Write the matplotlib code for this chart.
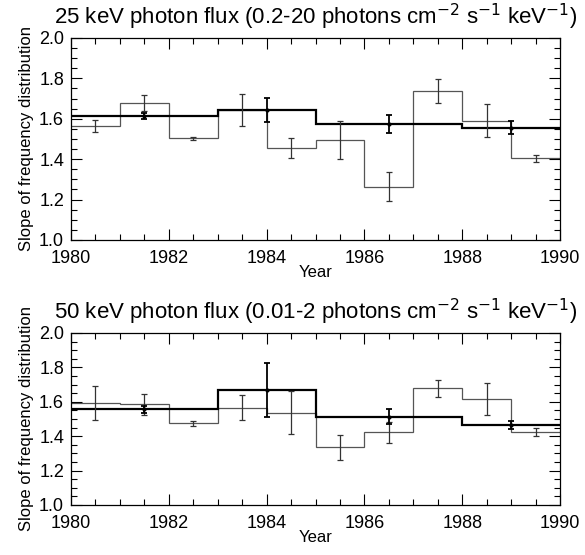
import numpy as np
import matplotlib
matplotlib.use("Agg")
import matplotlib.pyplot as plt
from matplotlib.ticker import MultipleLocator

plt.rcParams['font.family'] = ['Liberation Sans', 'DejaVu Sans']

# yearly bins (thin line)
years = [1980, 1981, 1982, 1983, 1984, 1985, 1986, 1987, 1988, 1989, 1990]
top_thin = [1.564, 1.680, 1.503, 1.644, 1.454, 1.495, 1.264, 1.738, 1.591, 1.404]
top_thin_err = [0.031, 0.040, 0.008, 0.080, 0.050, 0.092, 0.071, 0.060, 0.081, 0.019]
bot_thin = [1.595, 1.585, 1.475, 1.566, 1.537, 1.335, 1.423, 1.678, 1.616, 1.423]
bot_thin_err = [0.099, 0.061, 0.015, 0.073, 0.124, 0.072, 0.060, 0.050, 0.094, 0.023]

# wide bins (thick line)
wide_edges = [1980, 1983, 1985, 1988, 1990]
top_thick = [1.614, 1.645, 1.574, 1.556]
top_thick_err = [0.016, 0.060, 0.043, 0.032]
bot_thick = [1.556, 1.669, 1.513, 1.465]
bot_thick_err = [0.020, 0.157, 0.045, 0.023]

titles = [r"25 keV photon flux (0.2-20 photons cm$^{-2}$ s$^{-1}$ keV$^{-1}$)",
          r"50 keV photon flux (0.01-2 photons cm$^{-2}$ s$^{-1}$ keV$^{-1}$)"]


def panel(ax, thin, thin_err, thick, thick_err, title):
    ax.stairs(thin, years, color="#555555", lw=0.9, baseline=None)
    ax.stairs(thick, wide_edges, color="black", lw=1.6, baseline=None)
    mid = np.array(years[:-1]) + 0.5
    ax.errorbar(mid, thin, yerr=thin_err, fmt="none", ecolor="#333333",
                elinewidth=0.9, capsize=2.5, capthick=0.9)
    wmid = (np.array(wide_edges[:-1]) + np.array(wide_edges[1:])) / 2
    ax.errorbar(wmid, thick, yerr=thick_err, fmt="o", ms=2, color="black",
                ecolor="black", elinewidth=1.3, capsize=2.5, capthick=1.3)
    ax.set_xlim(1980, 1990)
    ax.set_ylim(1.0, 2.0)
    ax.xaxis.set_major_locator(MultipleLocator(2))
    ax.xaxis.set_minor_locator(MultipleLocator(0.5))
    ax.yaxis.set_major_locator(MultipleLocator(0.2))
    ax.yaxis.set_minor_locator(MultipleLocator(0.05))
    ax.tick_params(which="both", direction="in", top=True, right=True,
                   labelsize=13, width=0.8)
    ax.tick_params(which="major", length=8)
    ax.tick_params(which="minor", length=4)
    ax.tick_params(axis="x", pad=7)
    ax.tick_params(axis="y", pad=5)
    ax.yaxis.set_major_formatter(matplotlib.ticker.FormatStrFormatter("%.1f"))
    ax.set_title(title, fontsize=16, pad=10)
    ax.set_xlabel("Year", fontsize=12, labelpad=-1)
    ax.set_ylabel("Slope of frequency distribution", fontsize=12, labelpad=4)
    for s in ax.spines.values():
        s.set_linewidth(0.9)


fig = plt.figure(figsize=(5.85, 5.55), dpi=100)
ax1 = fig.add_axes([0.1214, 0.5676, 0.836, 0.364])
ax2 = fig.add_axes([0.1214, 0.0901, 0.836, 0.310])
panel(ax1, top_thin, top_thin_err, top_thick, top_thick_err, titles[0])
panel(ax2, bot_thin, bot_thin_err, bot_thick, bot_thick_err, titles[1])

fig.savefig("out.png", dpi=100)
